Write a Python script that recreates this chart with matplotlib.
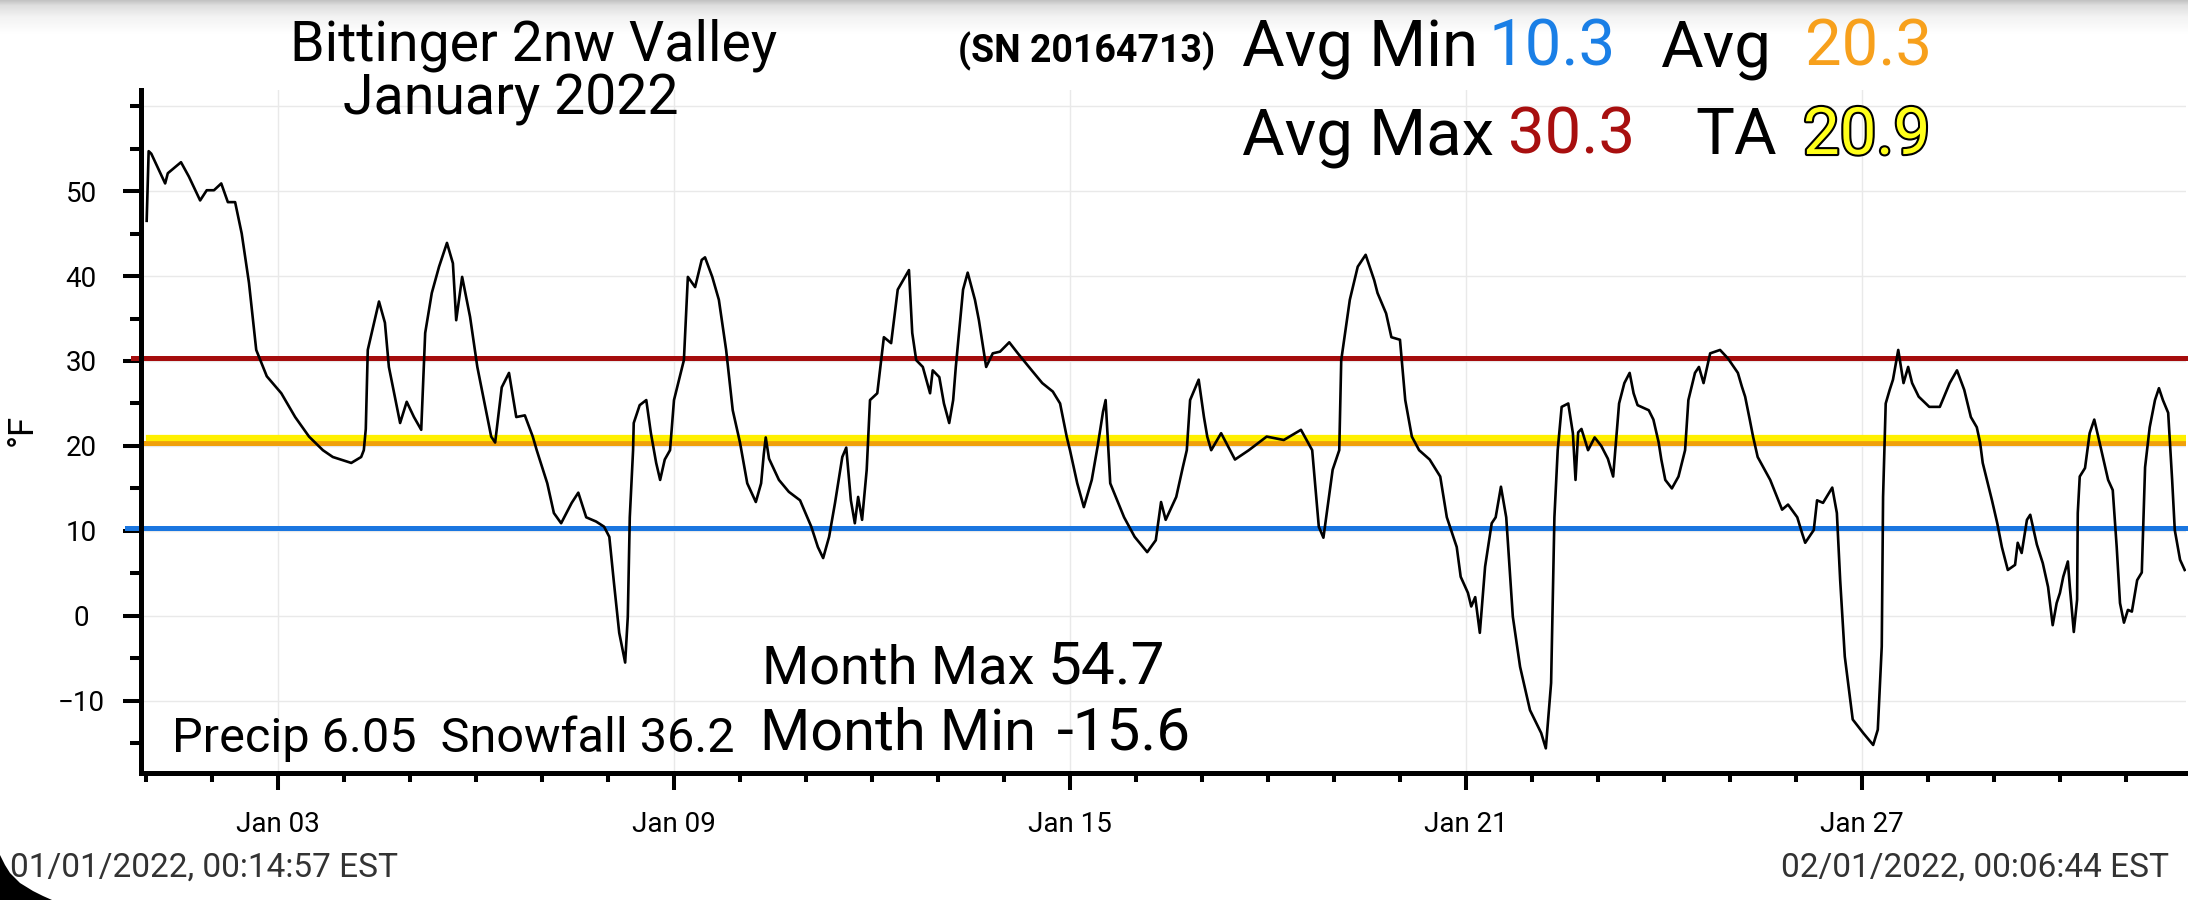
import matplotlib
matplotlib.use('Agg')
import matplotlib.pyplot as plt
import matplotlib.dates as mdates
import matplotlib.patheffects as pe
from matplotlib.patches import Polygon
from matplotlib.colors import LinearSegmentedColormap
import numpy as np
from datetime import datetime, timedelta

plt.rcParams['font.family'] = ['Roboto', 'DejaVu Sans']

# temperature trace: days since Jan 1 00:00 and deg F
day = [0.01, 0.04, 0.08, 0.29, 0.33, 0.53, 0.65, 0.82, 0.92, 1.03, 1.14, 1.24, 1.35, 1.45, 1.56,
       1.67, 1.83, 2.05, 2.26, 2.47, 2.68, 2.83, 3.11, 3.26, 3.30, 3.33, 3.36, 3.53, 3.62, 3.68,
       3.85, 3.95, 4.06, 4.17, 4.23, 4.33, 4.44, 4.56, 4.65, 4.70, 4.79, 4.91, 5.02, 5.23, 5.29,
       5.39, 5.50, 5.61, 5.74, 5.86, 5.92, 6.08, 6.18, 6.29, 6.45, 6.55, 6.67, 6.82, 6.94, 7.02,
       7.09, 7.17, 7.26, 7.30, 7.33, 7.38, 7.39, 7.48, 7.58, 7.65, 7.73, 7.79, 7.86, 7.94, 8.00,
       8.15, 8.21, 8.32, 8.42, 8.47, 8.58, 8.68, 8.79, 8.89, 9.00, 9.11, 9.24, 9.32, 9.36, 9.39,
       9.44, 9.59, 9.74, 9.91, 10.08, 10.18, 10.26, 10.35, 10.44, 10.55, 10.61, 10.68, 10.74, 10.79, 10.85,
       10.92, 10.97, 11.08, 11.18, 11.29, 11.39, 11.50, 11.56, 11.61, 11.67, 11.77, 11.88, 11.92, 12.02, 12.09,
       12.17, 12.23, 12.27, 12.38, 12.45, 12.56, 12.62, 12.73, 12.83, 12.94, 13.08, 13.21, 13.42, 13.58, 13.74,
       13.85, 13.95, 14.00, 14.11, 14.21, 14.33, 14.42, 14.50, 14.54, 14.61, 14.82, 14.98, 15.17, 15.30, 15.38,
       15.45, 15.61, 15.71, 15.77, 15.82, 15.95, 16.03, 16.08, 16.14, 16.29, 16.50, 16.71, 16.98, 17.24, 17.50,
       17.67, 17.77, 17.84, 17.98, 18.08, 18.11, 18.24, 18.36, 18.48, 18.61, 18.66, 18.79, 18.87, 19.00, 19.08,
       19.18, 19.29, 19.45, 19.61, 19.71, 19.86, 19.92, 20.03, 20.08, 20.14, 20.21, 20.29, 20.39, 20.45, 20.53,
       20.61, 20.71, 20.82, 20.97, 21.14, 21.21, 21.29, 21.34, 21.39, 21.45, 21.55, 21.62, 21.66, 21.70, 21.75,
       21.85, 21.95, 22.05, 22.15, 22.23, 22.32, 22.40, 22.48, 22.54, 22.60, 22.77, 22.84, 22.92, 22.96, 23.02,
       23.12, 23.22, 23.32, 23.37, 23.47, 23.53, 23.60, 23.70, 23.85, 23.97, 24.12, 24.18, 24.23, 24.30, 24.35,
       24.42, 24.61, 24.79, 24.88, 25.02, 25.09, 25.14, 25.27, 25.32, 25.41, 25.55, 25.62, 25.67, 25.74, 25.86,
       26.02, 26.17, 26.24, 26.30, 26.32, 26.36, 26.42, 26.47, 26.55, 26.63, 26.70, 26.76, 26.86, 27.02, 27.18,
       27.33, 27.44, 27.55, 27.65, 27.74, 27.79, 27.83, 27.97, 28.05, 28.12, 28.21, 28.32, 28.36, 28.42, 28.50,
       28.55, 28.59, 28.65, 28.74, 28.82, 28.89, 28.95, 29.00, 29.05, 29.12, 29.15, 29.21, 29.26, 29.27, 29.30,
       29.38, 29.45, 29.52, 29.58, 29.65, 29.73, 29.80, 29.86, 29.91, 29.97, 30.03, 30.09, 30.17, 30.24, 30.26,
       30.29, 30.36, 30.44, 30.50, 30.56, 30.64, 30.70, 30.74, 30.82, 30.89]
temp = [46.5, 54.7, 54.4, 50.9, 52.1, 53.4, 51.7, 48.9, 50.1, 50.1, 50.9, 48.7, 48.7, 45.0, 39.2,
        31.3, 28.2, 26.2, 23.4, 21.1, 19.5, 18.7, 18.0, 18.7, 19.5, 22.0, 31.3, 37.0, 34.5, 29.3,
        22.7, 25.2, 23.4, 21.9, 33.3, 38.0, 41.1, 43.9, 41.5, 34.8, 39.9, 35.2, 29.3, 21.1, 20.4,
        26.9, 28.6, 23.4, 23.6, 21.1, 19.5, 15.6, 12.1, 10.9, 13.3, 14.5, 11.6, 11.1, 10.5, 9.3,
        3.9, -2.0, -5.5, -0.1, 11.6, 19.5, 22.7, 24.8, 25.4, 21.5, 18.0, 16.0, 18.4, 19.5, 25.4,
        30.1, 39.9, 38.7, 41.9, 42.2, 39.9, 37.2, 31.3, 24.2, 20.4, 15.6, 13.4, 15.6, 19.0, 21.0,
        18.5, 16.0, 14.6, 13.6, 10.5, 8.1, 6.8, 9.3, 13.3, 18.7, 19.8, 13.6, 10.9, 14.0, 11.3,
        17.2, 25.4, 26.2, 32.8, 32.1, 38.4, 39.9, 40.7, 33.3, 30.1, 29.3, 26.2, 28.9, 28.1, 25.0,
        22.7, 25.4, 29.3, 38.4, 40.4, 37.2, 34.8, 29.3, 30.9, 31.1, 32.2, 30.9, 28.9, 27.4, 26.4,
        25.0, 21.1, 19.5, 15.6, 12.8, 16.0, 20.0, 24.0, 25.4, 15.6, 11.6, 9.3, 7.5, 8.9, 13.4,
        11.3, 14.0, 17.5, 19.5, 25.4, 27.8, 23.4, 21.1, 19.5, 21.5, 18.4, 19.5, 21.1, 20.7, 21.9,
        19.5, 10.5, 9.2, 17.2, 19.5, 30.1, 37.2, 41.1, 42.5, 39.5, 38.0, 35.6, 32.8, 32.5, 25.4,
        21.1, 19.5, 18.4, 16.4, 11.6, 8.1, 4.6, 2.7, 1.1, 2.2, -2.0, 5.8, 10.9, 11.6, 15.2,
        11.6, -0.1, -6.0, -11.1, -13.8, -15.6, -7.9, 11.6, 19.5, 24.6, 25.0, 21.5, 16.0, 21.6, 22.0,
        19.5, 21.0, 20.0, 18.5, 16.4, 25.0, 27.4, 28.6, 26.2, 24.8, 24.2, 23.1, 20.4, 18.4, 16.0,
        15.0, 16.4, 19.5, 25.4, 28.6, 29.3, 27.4, 30.9, 31.3, 30.3, 28.6, 27.0, 25.8, 23.1, 21.1,
        18.7, 16.0, 12.5, 13.1, 11.6, 9.8, 8.6, 10.1, 13.6, 13.3, 15.1, 12.1, 4.2, -4.8, -12.2,
        -13.8, -15.2, -13.4, -3.6, 14.0, 25.0, 26.6, 27.8, 31.3, 27.4, 29.3, 27.4, 25.8, 24.6, 24.6,
        27.4, 28.9, 26.6, 23.4, 22.2, 20.4, 18.0, 13.6, 10.9, 8.1, 5.4, 6.0, 8.6, 7.4, 11.3,
        11.9, 10.5, 8.4, 6.2, 3.4, -1.1, 1.5, 2.7, 4.6, 6.4, 3.4, -1.9, 1.9, 12.1, 16.4,
        17.4, 21.5, 23.1, 21.1, 18.7, 16.0, 14.8, 8.1, 1.5, -0.8, 0.7, 0.5, 4.2, 5.1, 10.1,
        17.5, 22.2, 25.4, 26.8, 25.4, 23.9, 16.0, 10.1, 6.6, 5.4]

avg_min = 10.3
avg_all = 20.3
avg_max = 30.3
ta = 20.9
month_max = 54.7
month_min = -15.6
precip = 6.05
snowfall = 36.2
station = 'Bittinger 2nw Valley'
month_label = 'January 2022'
serial = '(SN 20164713)'
start_stamp = '01/01/2022, 00:14:57 EST'
end_stamp = '02/01/2022, 00:06:44 EST'
yticks = [-10, 0, 10, 20, 30, 40, 50]
yminor = [-15, -5, 5, 15, 25, 35, 45, 55, 60]

W, H = 2188, 900
fig = plt.figure(figsize=(W / 100, H / 100), dpi=100)


def fx(px):
    return px / W


def fy(py):
    # pixel rows are counted from the top of the picture
    return 1 - py / H


# grey shade at the top of the screenshot
gax = fig.add_axes([0, fy(34), 1, 34 / H], zorder=-5)
shade = LinearSegmentedColormap.from_list('shade', [(0, '#c2c2c2'), (0.15, '#dedede'), (0.5, '#f3f3f3'), (1, '#ffffff')])
gax.imshow(np.linspace(0, 1, 60).reshape(-1, 1), cmap=shade, aspect='auto')
gax.axis('off')

ax = fig.add_axes([fx(141), fy(773), fx(2186) - fx(141), (773 - 90) / H])

t0 = datetime(2022, 1, 1)
times = [t0 + timedelta(days=d) for d in day]

ax.grid(True, which='major', color='#e9e9e9', lw=1, zorder=0)
ax.axhline(60, color='#e9e9e9', lw=1, zorder=0)

ax.axhline(avg_max, xmin=-0.004, color='#a50d0d', lw=3.6, zorder=2, clip_on=False)
ax.axhline(avg_all, color='#f0a00a', lw=3.6, zorder=2)
ax.axhline(ta, xmin=0.004, color='#fff000', lw=4.5, zorder=2)
ax.axhline(avg_min, xmin=-0.007, color='#1a76e0', lw=3.6, zorder=2, clip_on=False)

ax.plot(times, temp, color='black', lw=1.9, zorder=3)

ax.set_xlim(t0 - timedelta(days=0.076), t0 + timedelta(days=30.91))
ax.set_ylim(-18.5, 61.9)

ax.xaxis.set_major_locator(mdates.DayLocator(bymonthday=[3, 9, 15, 21, 27]))
ax.xaxis.set_major_formatter(mdates.DateFormatter('%b %d'))
ax.xaxis.set_minor_locator(mdates.DayLocator())
ax.set_yticks(yticks)
ax.set_yticks(yminor, minor=True)

for s in ['top', 'right']:
    ax.spines[s].set_visible(False)
for s in ['left', 'bottom']:
    ax.spines[s].set_linewidth(3.6)

ax.tick_params(axis='x', which='major', length=12.5, width=2.9, labelsize=20, pad=15)
ax.tick_params(axis='x', which='minor', length=6.5, width=2.9)
ax.tick_params(axis='y', which='major', length=13, width=2.9, labelsize=20, pad=30)
ax.tick_params(axis='y', which='minor', length=8, width=2.9)
for lab in ax.get_yticklabels():
    lab.set_ha('center')

fig.text(fx(22), fy(430), '°F', rotation=90, fontsize=25, ha='center', va='center')

# header
fig.text(fx(290), fy(60), station, fontsize=40, ha='left', va='baseline')
fig.text(fx(343), fy(115), month_label, fontsize=40, ha='left', va='baseline')
fig.text(fx(958), fy(62), serial, fontsize=27, fontweight='bold', ha='left', va='baseline')

fig.text(fx(1242), fy(66), 'Avg Min', fontsize=47, ha='left', va='baseline')
fig.text(fx(1489), fy(66), f'{avg_min:.1f}', fontsize=47, color='#1a7fe6', ha='left', va='baseline')
fig.text(fx(1660), fy(66), 'Avg', fontsize=47, ha='left', va='baseline')
fig.text(fx(1805), fy(66), f'{avg_all:.1f}', fontsize=47, color='#f7a01c', ha='left', va='baseline')

fig.text(fx(1242), fy(154), 'Avg Max', fontsize=47, ha='left', va='baseline')
fig.text(fx(1508), fy(154), f'{avg_max:.1f}', fontsize=47, color='#a80f0f', ha='left', va='baseline')
fig.text(fx(1695), fy(154), 'TA', fontsize=47, ha='left', va='baseline')
fig.text(fx(1803), fy(154), f'{ta:.1f}', fontsize=47, color='#ffff1a', ha='left', va='baseline',
         path_effects=[pe.withStroke(linewidth=3, foreground='black')])

# month summary inside the plot
fig.text(fx(762), fy(683), 'Month Max', fontsize=39, ha='left', va='baseline')
fig.text(fx(1048), fy(683), f'{month_max:.1f}', fontsize=43.5, ha='left', va='baseline')
fig.text(fx(760), fy(750), 'Month Min', fontsize=41.5, ha='left', va='baseline')
fig.text(fx(1057), fy(750), f'{month_min:.1f}', fontsize=43.5, ha='left', va='baseline')
fig.text(fx(172), fy(752), f'Precip {precip:.2f}  Snowfall {snowfall:.1f}', fontsize=35, ha='left', va='baseline')

fig.text(fx(10), fy(877), start_stamp, fontsize=24, color='#333333', ha='left', va='baseline')
fig.text(fx(2169), fy(877), end_stamp, fontsize=24, color='#333333', ha='right', va='baseline')

# dark rounded screen corner, bottom left
corner = [(0, 0), (0, 45), (5, 35), (10, 27), (20, 17), (33, 9), (43, 4), (52, 0)]
fig.patches.append(Polygon([(fx(x), y / H) for x, y in corner], closed=True, transform=fig.transFigure,
                           facecolor='black', edgecolor='none', zorder=10))

fig.savefig('out.png', dpi=100)
